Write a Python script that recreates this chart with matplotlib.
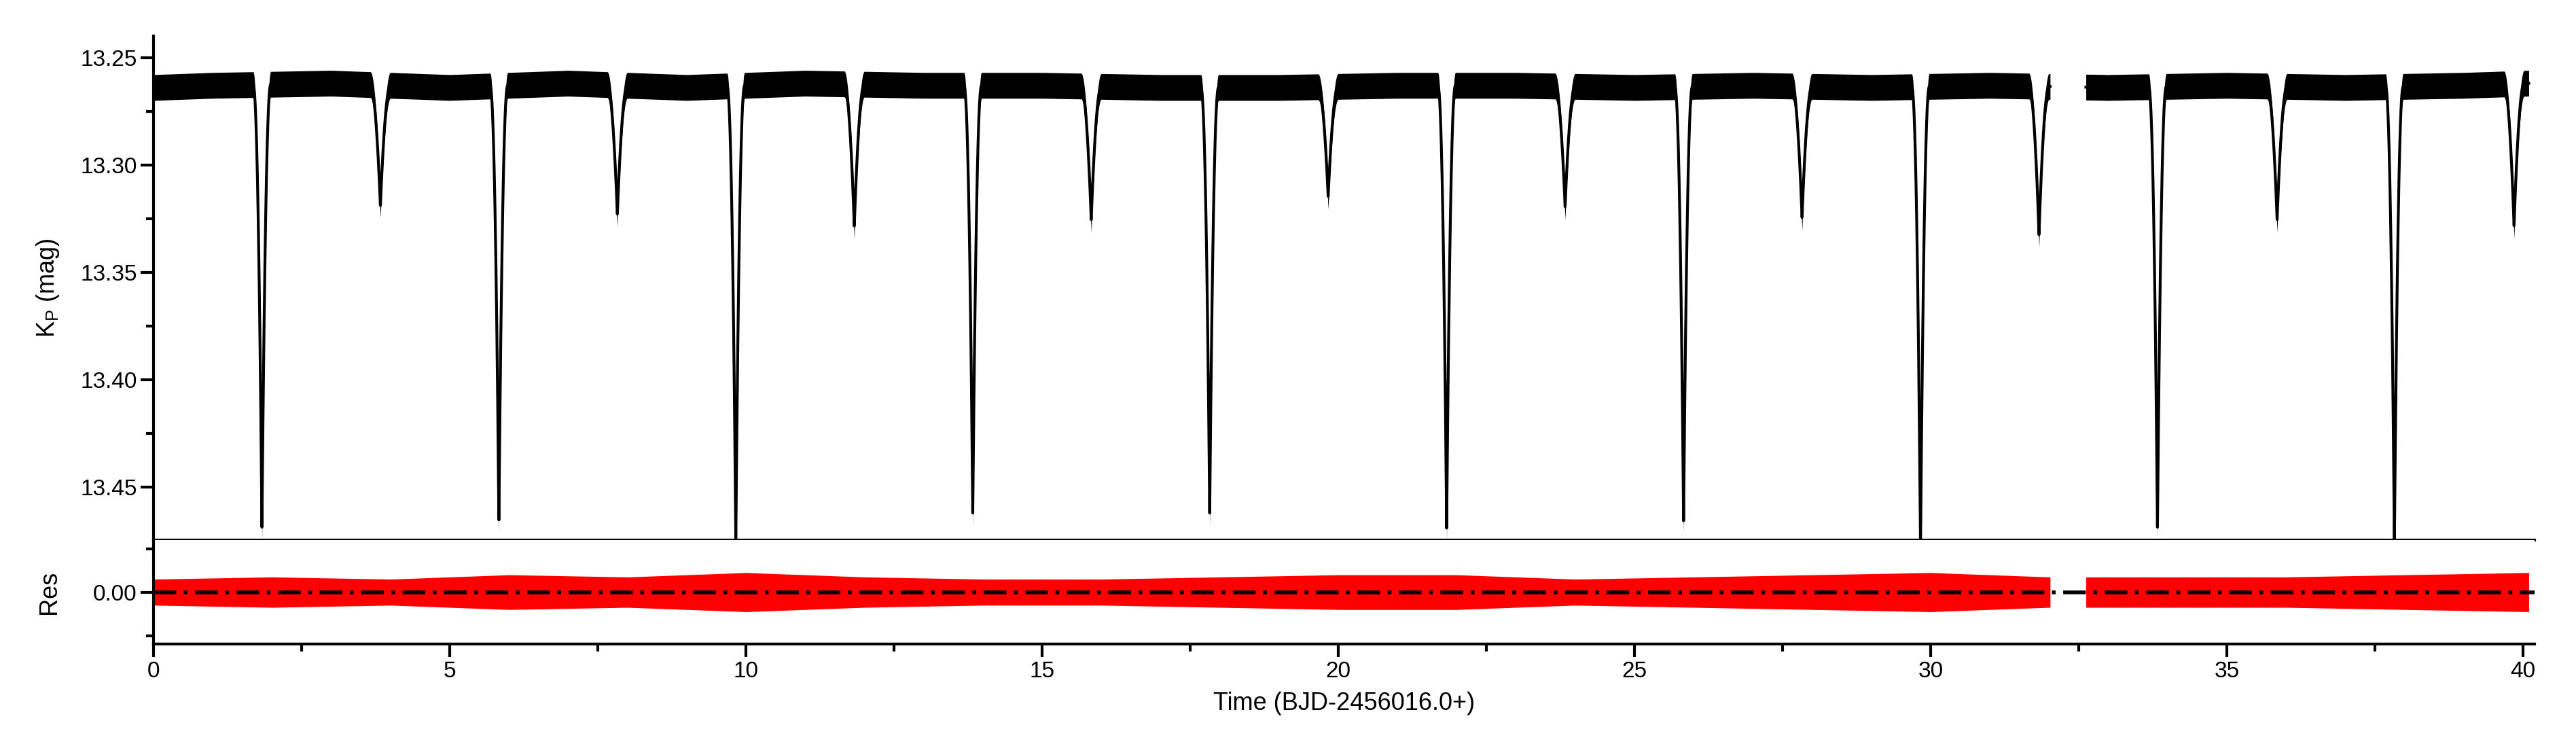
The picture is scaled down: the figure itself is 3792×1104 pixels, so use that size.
import numpy as np
import matplotlib
matplotlib.use("Agg")
import matplotlib.pyplot as plt
from matplotlib.ticker import MultipleLocator

plt.rcParams['font.family'] = ['Liberation Sans', 'DejaVu Sans']

# data
prim_t = [1.83, 5.83, 9.83, 13.83, 17.83, 21.83, 25.83, 29.83, 33.83, 37.83]
prim_mag = [13.470, 13.466, 13.476, 13.463, 13.462, 13.470, 13.466, 13.478, 13.469, 13.476]
sec_t = [3.83, 7.83, 11.83, 15.83, 19.83, 23.83, 27.83, 31.83, 35.85, 39.85]
sec_mag = [13.320, 13.324, 13.330, 13.326, 13.315, 13.320, 13.325, 13.333, 13.326, 13.330]
base_t = [0, 1, 3, 5, 7, 9, 11, 13, 15, 17, 19, 21, 23, 25, 27, 29, 31, 33, 35, 37, 39, 40.1]
base_mag = [13.264, 13.263, 13.262, 13.264, 13.262, 13.264, 13.262, 13.263, 13.263, 13.264, 13.264, 13.263, 13.263, 13.264, 13.263, 13.264, 13.263, 13.264, 13.263, 13.264, 13.263, 13.262]
res_t = [0, 2, 4, 6, 8, 10, 12, 14, 16, 18, 20, 22, 24, 26, 28, 30, 32, 34, 36, 38, 40.1]
res_amp = [0.006, 0.007, 0.006, 0.008, 0.007, 0.009, 0.007, 0.006, 0.006, 0.007, 0.008, 0.008, 0.006, 0.007, 0.008, 0.009, 0.007, 0.007, 0.007, 0.008, 0.009]
gap = (32.02, 32.62)
t_end = 40.1

t = np.arange(0, t_end, 0.002)
t = t[(t < gap[0]) | (t > gap[1])]
base = np.interp(t, base_t, base_mag)
model = base.copy()
for tc, m in zip(prim_t, prim_mag):
    d = np.clip(1 - np.abs(t - tc) / 0.15, 0, None)
    model += (m - 13.264) * d ** 2.2
for tc, m in zip(sec_t, sec_mag):
    d = np.clip(1 - np.abs(t - tc) / 0.17, 0, None)
    model += (m - 13.264) * d ** 2.0
amp = np.interp(t, res_t, res_amp)

def segs(x):
    m1 = x < gap[0]
    return [m1, ~m1]

fig = plt.figure(figsize=(37.92, 11.04), dpi=100)
gs = fig.add_gridspec(2, 1, height_ratios=[305, 63], hspace=0,
                      left=0.0596, right=0.984, top=0.952, bottom=0.141)
ax = fig.add_subplot(gs[0])
ar = fig.add_subplot(gs[1], sharex=ax)

for m in segs(t):
    ax.fill_between(t[m], model[m] - 0.006, model[m] + 0.006, color='black', lw=0)
    ax.plot(t[m], model[m], color='black', lw=3)
    ar.fill_between(t[m], -amp[m], amp[m], color='red', lw=0)
ar.axhline(0, color='black', lw=4, ls=(0, (6, 2, 1, 2)))

ax.set_ylim(13.4746, 13.24)
ar.set_ylim(-0.024, 0.024)
ax.set_xlim(0, 40.2)

for a in (ax, ar):
    a.spines['top'].set_visible(False)
    a.spines['right'].set_visible(False)
    for s in a.spines.values():
        s.set_linewidth(3)
    a.tick_params(axis='both', which='major', labelsize=24, width=3, length=14)
    a.tick_params(axis='both', which='minor', width=3, length=8)

ax.yaxis.set_major_locator(MultipleLocator(0.05))
ax.yaxis.set_minor_locator(MultipleLocator(0.025))
ax.yaxis.set_major_formatter(matplotlib.ticker.FormatStrFormatter('%.2f'))
ax.tick_params(axis='x', which='both', bottom=False, labelbottom=False)
ar.set_yticks([0.0])
ar.set_yticks([-0.02, 0.02], minor=True)
ar.yaxis.set_major_formatter(matplotlib.ticker.FormatStrFormatter('%.2f'))
ar.xaxis.set_major_locator(MultipleLocator(5))
ar.xaxis.set_minor_locator(MultipleLocator(2.5))

ax.set_ylabel(r'K$_\mathregular{P}$ (mag)', fontsize=26, labelpad=20)
ar.set_ylabel('Res', fontsize=26, labelpad=20)
ar.set_xlabel('Time (BJD-2456016.0+)', fontsize=26, labelpad=10)
fig.align_ylabels([ax, ar])

fig.savefig('out.png', dpi=100)
